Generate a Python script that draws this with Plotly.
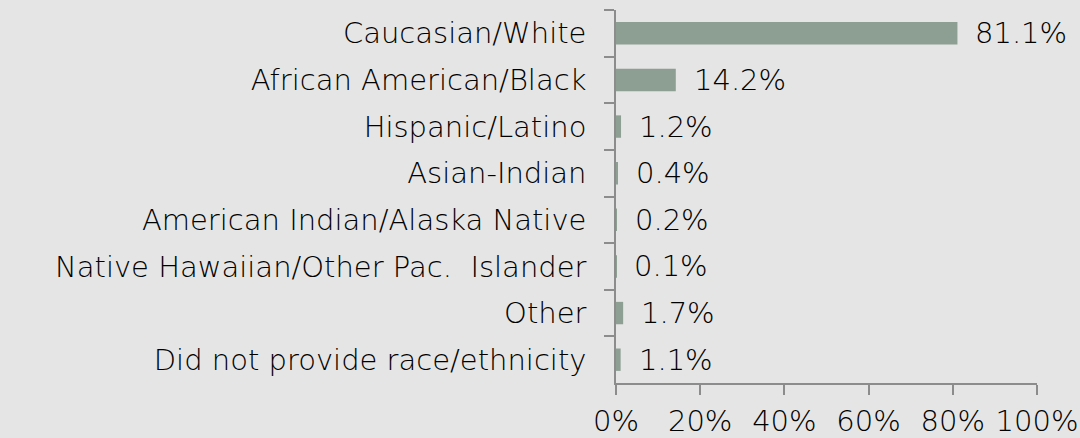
import plotly.graph_objects as go

categories = [
    "Caucasian/White",
    "African American/Black",
    "Hispanic/Latino",
    "Asian-Indian",
    "American Indian/Alaska Native",
    "Native Hawaiian/Other Pac.\u00a0 Islander",
    "Other",
    "Did not provide race/ethnicity",
]
percentages = [81.1, 14.2, 1.2, 0.4, 0.2, 0.1, 1.7, 1.1]
x_tick_values = [0, 20, 40, 60, 80, 100]
x_tick_labels = ["0%", "20%", "40%", "60%", "80%", "100%"]

FONT = "DejaVu Sans"
FONT_SIZE = 29
FONT_WEIGHT = 200
TEXT_COLOR = "#000000"
AXIS_COLOR = "#8c8c8c"
BAR_COLOR = "#8d9e92"
BG = "#e5e5e5"

label_font = dict(family=FONT, size=FONT_SIZE, color=TEXT_COLOR, weight=FONT_WEIGHT)

fig = go.Figure()
fig.add_trace(go.Bar(
    x=percentages,
    y=categories,
    orientation="h",
    marker=dict(color=BAR_COLOR, line=dict(width=0)),
    width=0.48,
    hoverinfo="skip",
))

# value labels to the right of each bar
for cat, val in zip(categories, percentages):
    fig.add_annotation(
        x=val, y=cat, text=f"{val:.1f}%",
        xanchor="left", yanchor="middle", xshift=16, showarrow=False,
        font=label_font,
    )

fig.update_layout(
    width=1080, height=438,
    margin=dict(l=616, r=43, t=10, b=55),
    paper_bgcolor=BG, plot_bgcolor=BG,
    showlegend=False,
    font=label_font,
)
fig.update_xaxes(
    range=[0, 100], tickvals=x_tick_values, ticktext=x_tick_labels,
    showgrid=False, zeroline=False, automargin=False,
    showline=True, linecolor=AXIS_COLOR, linewidth=1.5,
    ticks="outside", ticklen=10, tickcolor=AXIS_COLOR, tickwidth=1.5,
    ticklabelstandoff=1,
    tickfont=label_font,
)
fig.update_yaxes(
    autorange="reversed", showgrid=False, zeroline=False, automargin=False,
    showline=True, linecolor=AXIS_COLOR, linewidth=1.5,
    ticks="outside", ticklen=10, tickcolor=AXIS_COLOR, tickwidth=1.5,
    tickson="boundaries", ticklabelstandoff=22,
    tickfont=label_font,
)

fig.write_html("out.html")
